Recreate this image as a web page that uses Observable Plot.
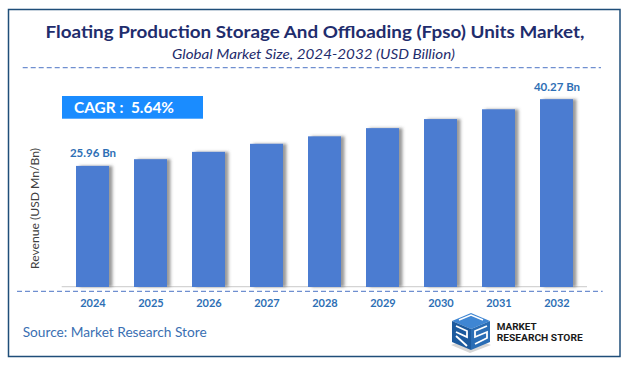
<!DOCTYPE html>
<html>
<head>
<meta charset="utf-8">
<script src="https://cdn.jsdelivr.net/npm/d3@7"></script>
<script src="https://cdn.jsdelivr.net/npm/@observablehq/plot@0.6"></script>
<style>
  html, body { margin: 0; padding: 0; background: #ffffff; }
  #chart svg { display: block; }
  g[aria-label="x-axis tick label"] text { font-weight: 700; fill: #2e6fb5; }
</style>
</head>
<body>
<div id="chart"></div>
<script>
// ---- data ----
const years = ["2024", "2025", "2026", "2027", "2028", "2029", "2030", "2031", "2032"];
const values = [25.96, 27.4, 28.97, 30.7, 32.3, 34.06, 36.0, 38.1, 40.27];
const valueLabels = ["25.96 Bn", "", "", "", "", "", "", "", "40.27 Bn"];
const titleText = "Floating Production Storage And Offloading (Fpso) Units Market,";
const subtitleText = "Global Market Size, 2024-2032 (USD Billion)";
const cagrText = "CAGR :  5.64%";
const yLabelText = "Revenue (USD Mn/Bn)";
const sourceText = "Source: Market Research Store";

const data = years.map((year, i) => ({year, value: values[i], label: valueLabels[i]}));

const plot = Plot.plot({
  width: 631,
  height: 367,
  marginLeft: 48.45,
  marginRight: 30,
  marginTop: 77.1,
  marginBottom: 80,
  style: {fontFamily: "Lato, 'Open Sans', sans-serif", background: "transparent", overflow: "visible"},
  x: {domain: years, padding: 0.436, label: null},
  y: {domain: [0, 45], axis: null},
  marks: [
    Plot.barY(data, {x: "year", y: "value", fill: "#4b7cd1"}),
    Plot.text(data.filter(d => d.label), {
      x: "year", y: "value", text: "label",
      lineAnchor: "bottom", dy: -9,
      fill: "#2e6fb5", fontWeight: "bold", fontSize: 11.5
    }),
    Plot.axisX({tickSize: 0, tickPadding: 11.5, fontSize: 11, label: null})
  ]
});

document.getElementById("chart").appendChild(plot);

// ---- decorations ----
const svg = d3.select(plot);
const yScale = plot.scale("y");
const y0 = yScale.apply(0);

// drop shadow filter for bars
const defs = svg.insert("defs", ":first-child");
const f = defs.append("filter").attr("id", "barShadow")
  .attr("x", "-20%").attr("y", "-5%").attr("width", "160%").attr("height", "110%");
f.append("feDropShadow").attr("dx", 3.5).attr("dy", 0).attr("stdDeviation", 1.8)
  .attr("flood-color", "#555").attr("flood-opacity", 0.6);
svg.select('g[aria-label="bar"]').attr("filter", "url(#barShadow)");

const deco = svg.insert("g", ":first-child");
const over = svg.append("g").attr("text-anchor", "start");

// outer frame
over.append("rect").attr("x", 8.5).attr("y", 9.5).attr("width", 611.5).attr("height", 347)
  .attr("fill", "none").attr("stroke", "#1f4e79").attr("stroke-width", 1.5);

// baseline
deco.append("line").attr("x1", 61.7).attr("x2", 587).attr("y1", y0 - 0.3).attr("y2", y0 - 0.3)
  .attr("stroke", "#d4d4d4").attr("stroke-width", 1.2);

// dashed separators
over.append("line").attr("x1", 22.7).attr("x2", 601).attr("y1", 67.7).attr("y2", 67.7)
  .attr("stroke", "#6f8fd0").attr("stroke-width", 1.2).attr("stroke-dasharray", "5 3");
over.append("line").attr("x1", 17).attr("x2", 602.7).attr("y1", y0 + 4.3).attr("y2", y0 + 4.3)
  .attr("stroke", "#6f8fd0").attr("stroke-width", 1.2).attr("stroke-dasharray", "5 3");

// title / subtitle
over.append("text").attr("x", 315).attr("y", 38.3).attr("text-anchor", "middle")
  .attr("font-family", "Lato, sans-serif").attr("font-weight", 700).attr("font-size", 17.5)
  .attr("fill", "#1f2d6d").attr("textLength", 539).attr("lengthAdjust", "spacingAndGlyphs")
  .text(titleText);
over.append("text").attr("x", 313.5).attr("y", 59.3).attr("text-anchor", "middle")
  .attr("font-family", "Lato, sans-serif").attr("font-style", "italic").attr("font-size", 14)
  .attr("fill", "#1f2d6d").attr("textLength", 283).attr("lengthAdjust", "spacingAndGlyphs")
  .text(subtitleText);

// CAGR box
over.append("rect").attr("x", 62).attr("y", 96).attr("width", 141).attr("height", 22.7)
  .attr("fill", "#1a8cff");
over.append("text").attr("x", 74).attr("y", 113.3).attr("text-anchor", "start")
  .attr("font-family", "Lato, sans-serif").attr("font-weight", 700).attr("font-size", 15)
  .attr("fill", "#ffffff").attr("textLength", 100).attr("lengthAdjust", "spacingAndGlyphs")
  .text(cagrText);

// y-axis title
over.append("text").attr("transform", "translate(38.5,208.5) rotate(-90)")
  .attr("text-anchor", "middle")
  .attr("font-family", "Lato, sans-serif").attr("font-size", 12)
  .attr("fill", "#404040").attr("textLength", 121).attr("lengthAdjust", "spacingAndGlyphs")
  .text(yLabelText);

// source
over.append("text").attr("x", 22.7).attr("y", 337.3).attr("text-anchor", "start")
  .attr("font-family", "Lato, sans-serif").attr("font-size", 13)
  .attr("fill", "#3a6fb2").attr("textLength", 184).attr("lengthAdjust", "spacingAndGlyphs")
  .text(sourceText);

// logo
const logo = over.append("g");
logo.append("polygon").attr("points", "451,345 470,353 491,345 470,338").attr("fill", "#bbbbbb").attr("opacity", 0.6);
logo.append("polygon").attr("points", "452,321 471,313 490,321 471,329").attr("fill", "#3f86d3");
logo.append("polygon").attr("points", "452,321 471,329 471,350 452,342").attr("fill", "#1c5a9e");
logo.append("polygon").attr("points", "471,329 490,321 490,342 471,350").attr("fill", "#2a6db5");
logo.append("path").attr("d", "M456,326 L467,331 L467,337 L456,332 M456,336 L467,346")
  .attr("stroke", "#ffffff").attr("stroke-width", 1.8).attr("fill", "none");
logo.append("path").attr("d", "M487,326 L475,331 L475,337 L487,332 L487,338 L475,344")
  .attr("stroke", "#ffffff").attr("stroke-width", 1.8).attr("fill", "none");
logo.append("path").attr("d", "M459,320 L471,315 L483,320")
  .attr("stroke", "#ffffff").attr("stroke-width", 1.5).attr("fill", "none");
over.append("text").attr("x", 496.7).attr("y", 330.3).attr("text-anchor", "start")
  .attr("font-family", "Roboto, sans-serif").attr("font-weight", 700).attr("font-size", 9.5)
  .attr("fill", "#1a1a1a").attr("textLength", 40).attr("lengthAdjust", "spacingAndGlyphs")
  .text("MARKET");
over.append("text").attr("x", 496.7).attr("y", 340.5).attr("text-anchor", "start")
  .attr("font-family", "Roboto, sans-serif").attr("font-weight", 700).attr("font-size", 9.5)
  .attr("fill", "#1a1a1a").attr("textLength", 86).attr("lengthAdjust", "spacingAndGlyphs")
  .text("RESEARCH STORE");
</script>
</body>
</html>
